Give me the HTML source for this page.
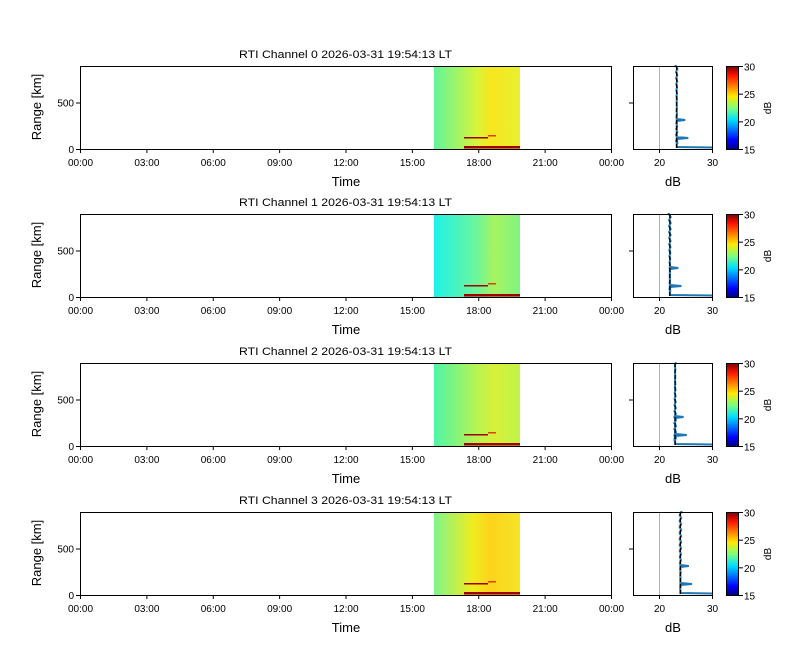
<!DOCTYPE html>
<html><head><meta charset="utf-8"><style>
body{margin:0;background:#fff;}
svg{display:block;font-family:"Liberation Sans","DejaVu Sans",sans-serif;}
</style></head><body>
<svg id="s" width="800" height="660" xmlns="http://www.w3.org/2000/svg">
<defs>
<linearGradient id="jet" x1="0" y1="1" x2="0" y2="0">
<stop offset="0" stop-color="#00007f"/><stop offset="0.11" stop-color="#0000ff"/><stop offset="0.36" stop-color="#00e0ff"/><stop offset="0.5" stop-color="#7dff7a"/><stop offset="0.64" stop-color="#ffea00"/><stop offset="0.89" stop-color="#ff1300"/><stop offset="1" stop-color="#7f0000"/>
</linearGradient>
<linearGradient id="g0" x1="0" x2="1"><stop offset="0" stop-color="#62f59a"/><stop offset="0.5" stop-color="#d6f53a"/><stop offset="0.65" stop-color="#f6e61e"/><stop offset="1" stop-color="#e8f030"/></linearGradient>
<linearGradient id="g1" x1="0" x2="1"><stop offset="0" stop-color="#1ef2e8"/><stop offset="0.5" stop-color="#6cf69a"/><stop offset="0.7" stop-color="#a6f460"/><stop offset="1" stop-color="#80f480"/></linearGradient>
<linearGradient id="g2" x1="0" x2="1"><stop offset="0" stop-color="#50f4a8"/><stop offset="0.5" stop-color="#b6f450"/><stop offset="0.7" stop-color="#d8f03a"/><stop offset="1" stop-color="#c0f448"/></linearGradient>
<linearGradient id="g3" x1="0" x2="1"><stop offset="0" stop-color="#80f58c"/><stop offset="0.45" stop-color="#f0ec20"/><stop offset="0.65" stop-color="#fcd41a"/><stop offset="1" stop-color="#f4e428"/></linearGradient>
</defs>
</svg>
<script>
var s=document.getElementById('s'),h='';
var tops=[66,214,363,512],lv=[23.3,22,23,24];
var ticks=['00:00','03:00','06:00','09:00','12:00','15:00','18:00','21:00','00:00'];
function px(v){return 633+(v-15)*79/15;}
for(var i=0;i<4;i++){
var t=tops[i],b=t+83;
h+='<text x="239" y="'+(t-8)+'" font-size="11" textLength="213" lengthAdjust="spacingAndGlyphs">RTI Channel '+i+' 2026-03-31 19:54:13 LT</text>';
h+='<rect x="434" y="'+t+'" width="86" height="83" fill="url(#g'+i+')"/>';
h+='<rect x="464" y="'+(b-3)+'" width="56" height="2.5" fill="#a00000"/>';
h+='<rect x="464" y="'+(b-12)+'" width="24" height="1.5" fill="#a00000"/>';
h+='<rect x="488" y="'+(b-14)+'" width="8" height="1.5" fill="#e04000"/>';
h+='<rect x="80.5" y="'+(t+.5)+'" width="531" height="83" fill="none" stroke="#000"/>';
for(var k=0;k<9;k++){var x=80.5+k*66.375;h+='<line x1="'+x+'" x2="'+x+'" y1="'+(b+.5)+'" y2="'+(b+4)+'" stroke="#000"/><text x="'+x+'" y="'+(b+17)+'" font-size="10" text-anchor="middle">'+ticks[k]+'</text>';}
[[0,b],[500,b-46.5]].forEach(function(p){h+='<line x1="76" x2="80" y1="'+(p[1]+.5)+'" y2="'+(p[1]+.5)+'" stroke="#000"/><text x="74" y="'+(p[1]+4)+'" font-size="10" text-anchor="end">'+p[0]+'</text>';});
h+='<text x="346" y="'+(b+37)+'" font-size="13" text-anchor="middle">Time</text>';
h+='<text transform="translate(41,'+(t+41)+') rotate(-90)" font-size="13" text-anchor="middle">Range [km]</text>';
var lx=px(lv[i]);
h+='<line x1="659.5" x2="659.5" y1="'+t+'" y2="'+b+'" stroke="#b0b0b0"/>';
var d='M'+lx+' '+t;for(var y=t;y<b-3;y+=3){d+=' L'+(lx+(Math.sin(y*7.3+i)*0.8))+' '+y;}
d+=' L'+lx+' '+(b-12)+' L'+px(lv[i]+2.2)+' '+(b-11)+' L'+lx+' '+(b-10)+' L'+lx+' '+(b-30)+' L'+px(lv[i]+1.6)+' '+(b-29)+' L'+lx+' '+(b-28)+' L'+lx+' '+(b-2)+' L712 '+(b-1.5);
h+='<path d="'+d+'" fill="none" stroke="#1f77b4" stroke-width="2"/>';
h+='<line x1="'+lx+'" x2="'+lx+'" y1="'+t+'" y2="'+b+'" stroke="#000" stroke-dasharray="4,2" stroke-width="1.3"/>';
h+='<rect x="633.5" y="'+(t+.5)+'" width="79" height="83" fill="none" stroke="#000"/>';
h+='<line x1="629" x2="633" y1="'+(b-46)+'" y2="'+(b-46)+'" stroke="#000"/>';
[[20,659.5],[30,712.5]].forEach(function(p){h+='<line x1="'+p[1]+'" x2="'+p[1]+'" y1="'+(b+.5)+'" y2="'+(b+4)+'" stroke="#000"/><text x="'+p[1]+'" y="'+(b+17)+'" font-size="10" text-anchor="middle">'+p[0]+'</text>';});
h+='<text x="673" y="'+(b+37)+'" font-size="13" text-anchor="middle">dB</text>';
h+='<rect x="726.5" y="'+(t+.5)+'" width="12" height="83" fill="url(#jet)" stroke="#000"/>';
[30,25,20,15].forEach(function(v,j){var y=t+.5+j*83/3;h+='<line x1="739" x2="743" y1="'+y+'" y2="'+y+'" stroke="#000"/><text x="744" y="'+(y+4)+'" font-size="10">'+v+'</text>';});
h+='<text transform="translate(771,'+(t+42)+') rotate(-90)" font-size="10" text-anchor="middle">dB</text>';
}
s.innerHTML+=h;
</script>
</body></html>
